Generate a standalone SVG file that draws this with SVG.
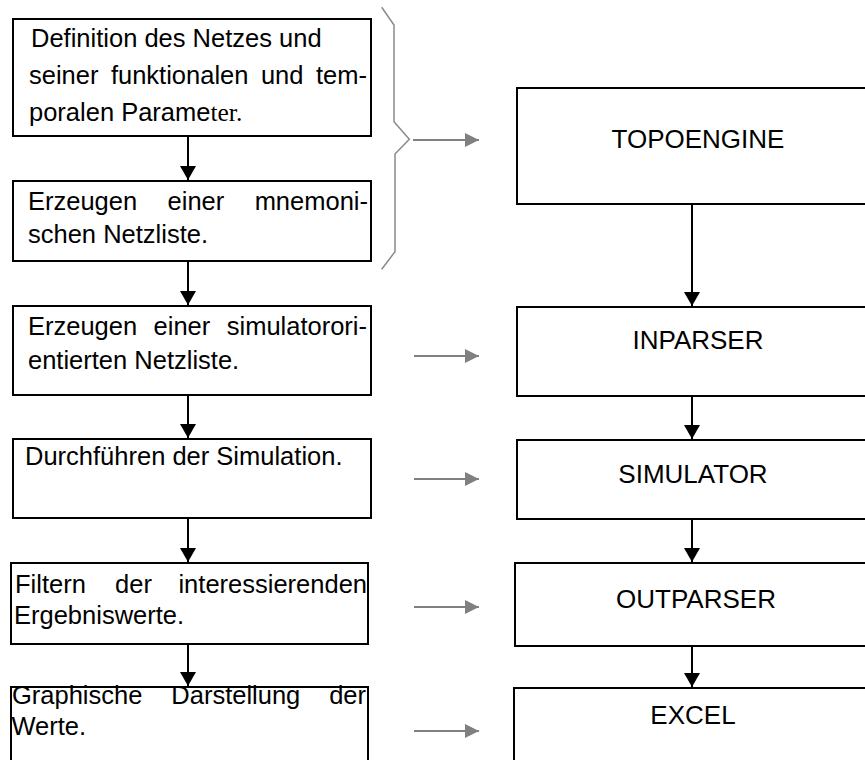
<svg xmlns="http://www.w3.org/2000/svg" width="865" height="760" viewBox="0 0 865 760">
  <style>
    .box { fill: #ffffff; stroke: #000000; stroke-width: 2; }
    .txt { font-family: "Liberation Sans", Arial, sans-serif; font-size: 25.5px; fill: #000000; }
    .lbl { font-family: "Liberation Sans", Arial, sans-serif; font-size: 26px; fill: #000000; text-anchor: middle; }
    .end { text-anchor: end; }
    .serif { font-family: "Liberation Serif", "Times New Roman", serif; }
    .flow { stroke: #000000; stroke-width: 2; fill: none; marker-end: url(#headBlack); }
    .map { stroke: #808080; stroke-width: 2; fill: none; marker-end: url(#headGray); }
    .brace { stroke: #8a8a8a; stroke-width: 1.5; fill: none; }
  </style>
  <defs>
    <marker id="headBlack" markerUnits="userSpaceOnUse" markerWidth="16" markerHeight="16" refX="14" refY="8" orient="auto">
      <path d="M0,0 L14,8 L0,16 z" fill="#000000"/>
    </marker>
    <marker id="headGray" markerUnits="userSpaceOnUse" markerWidth="14" markerHeight="14" refX="14" refY="7" orient="auto">
      <path d="M0,0 L14,7 L0,14 z" fill="#808080"/>
    </marker>
  </defs>
  <rect width="865" height="760" fill="#ffffff"/>

  <!-- process steps (left column) -->
  <g id="step-definition">
    <rect class="box" x="13" y="19" width="358" height="117"/>
    <text class="txt" x="31" y="47">Definition des Netzes und</text>
    <text class="txt" x="29" y="84">seiner</text>
    <text class="txt" x="110.9" y="84">funktionalen</text>
    <text class="txt" x="260.9" y="84">und</text>
    <text class="txt end" x="367" y="84">tem-</text>
    <text class="txt" x="29" y="121">poralen Parame<tspan class="serif">ter.</tspan></text>
  </g>

  <g id="step-mnemonic">
    <rect class="box" x="13" y="181" width="358" height="80"/>
    <text class="txt" x="28" y="210">Erzeugen</text>
    <text class="txt" x="167.6" y="210">einer</text>
    <text class="txt end" x="368" y="210">mnemoni-</text>
    <text class="txt" x="28" y="243">schen Netzliste.</text>
  </g>

  <g id="step-simnetlist">
    <rect class="box" x="13" y="306" width="358" height="89"/>
    <text class="txt" x="28" y="335">Erzeugen</text>
    <text class="txt" x="153.6" y="335">einer</text>
    <text class="txt end" x="367" y="335">simulatorori-</text>
    <text class="txt" x="28" y="369">entierten Netzliste.</text>
  </g>

  <g id="step-simulation">
    <rect class="box" x="13" y="439" width="358" height="79"/>
    <text class="txt" x="25" y="465">Durchführen der Simulation.</text>
  </g>

  <g id="step-filter">
    <rect class="box" x="11" y="563" width="357" height="81"/>
    <text class="txt" x="15" y="593">Filtern</text>
    <text class="txt" x="115.1" y="593">der</text>
    <text class="txt end" x="367" y="593">interessierenden</text>
    <text class="txt" x="14" y="624">Ergebniswerte.</text>
  </g>

  <g id="step-graphics">
    <rect class="box" x="11" y="687" width="357" height="90"/>
    <text class="txt" x="12" y="704">Graphische</text>
    <text class="txt" x="171.3" y="704">Darstellung</text>
    <text class="txt end" x="366" y="704">der</text>
    <text class="txt" x="11.5" y="735">Werte.</text>
  </g>

  <!-- tools (right column) -->
  <g id="tool-topoengine">
    <rect class="box" x="517" y="88" width="358" height="116"/>
    <text class="lbl" x="698" y="148">TOPOENGINE</text>
  </g>

  <g id="tool-inparser">
    <rect class="box" x="517" y="307" width="358" height="89"/>
    <text class="lbl" x="698" y="349">INPARSER</text>
  </g>

  <g id="tool-simulator">
    <rect class="box" x="517" y="440" width="358" height="79"/>
    <text class="lbl" x="693" y="483">SIMULATOR</text>
  </g>

  <g id="tool-outparser">
    <rect class="box" x="515" y="563" width="360" height="83"/>
    <text class="lbl" x="696" y="608">OUTPARSER</text>
  </g>

  <g id="tool-excel">
    <rect class="box" x="514" y="688" width="361" height="90"/>
    <text class="lbl" x="693" y="724">EXCEL</text>
  </g>

  <!-- connectors -->
  <g id="connectors">
    <!-- left column flow -->
    <line class="flow" x1="188" y1="137" x2="188" y2="180"/>
    <line class="flow" x1="188" y1="262" x2="188" y2="305"/>
    <line class="flow" x1="188" y1="396" x2="188" y2="438"/>
    <line class="flow" x1="188" y1="519" x2="188" y2="562"/>
    <line class="flow" x1="188" y1="645" x2="188" y2="686"/>
    <!-- right column flow -->
    <line class="flow" x1="692" y1="205" x2="692" y2="306"/>
    <line class="flow" x1="692" y1="397" x2="692" y2="439"/>
    <line class="flow" x1="692" y1="520" x2="692" y2="562"/>
    <line class="flow" x1="692" y1="647" x2="692" y2="687"/>
    <!-- brace grouping the first two steps -->
    <path class="brace" d="M381.7,7.3 L394,25 L394,121.7 L409.3,139.3 L395,154 L395,251.7 L381.7,269.3"/>
    <!-- step-to-tool mappings -->
    <line class="map" x1="413" y1="140" x2="479" y2="140"/>
    <line class="map" x1="414" y1="356" x2="479" y2="356"/>
    <line class="map" x1="414" y1="479" x2="479" y2="479"/>
    <line class="map" x1="414" y1="607" x2="479" y2="607"/>
    <line class="map" x1="414" y1="731" x2="479" y2="731"/>
  </g>
</svg>
